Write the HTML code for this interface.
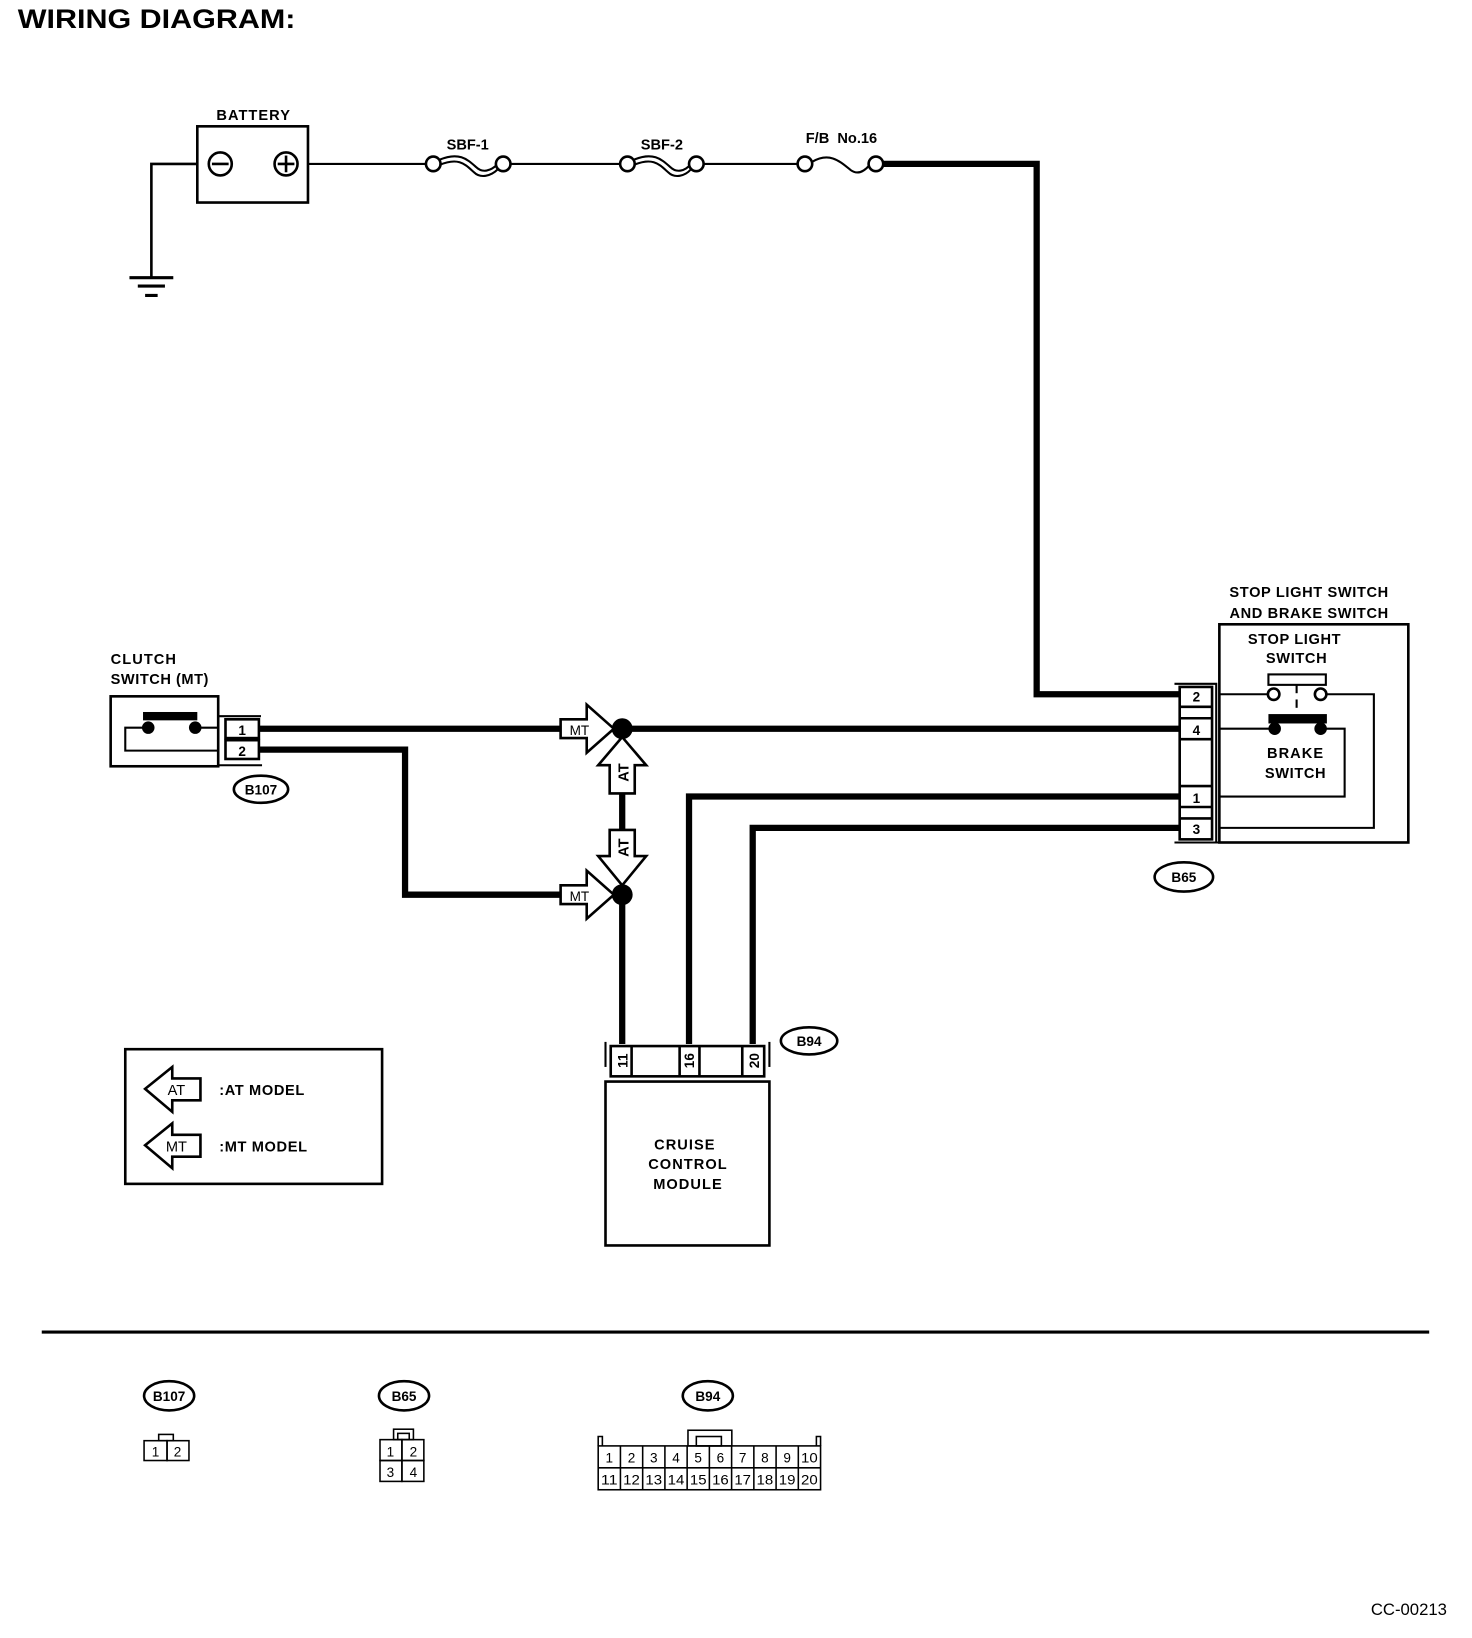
<!DOCTYPE html>
<html><head><meta charset="utf-8"><style>
html,body{margin:0;padding:0;background:#fff;}
svg{display:block;}
text{font-family:"Liberation Sans",Arial,sans-serif;font-weight:bold;fill:#000;}
text.n{font-weight:normal;}
</style></head><body>
<svg width="1472" height="1638" viewBox="0 0 1410 1569" xmlns="http://www.w3.org/2000/svg">
<rect x="0" y="0" width="1410" height="1569" fill="#fff"/>
<text x="17" y="27" font-size="26" textLength="266" lengthAdjust="spacingAndGlyphs">WIRING DIAGRAM:</text>

<!-- battery -->
<text x="243" y="115" font-size="14" text-anchor="middle" letter-spacing="1">BATTERY</text>
<rect x="189" y="121" width="106" height="73" fill="none" stroke="#000" stroke-width="2.5"/>
<circle cx="211" cy="157" r="11" fill="none" stroke="#000" stroke-width="2.5"/>
<line x1="203" y1="157" x2="219" y2="157" stroke="#000" stroke-width="2.5"/>
<circle cx="274" cy="157" r="11" fill="none" stroke="#000" stroke-width="2.5"/>
<line x1="266" y1="157" x2="282" y2="157" stroke="#000" stroke-width="2.5"/>
<line x1="274" y1="149" x2="274" y2="165" stroke="#000" stroke-width="2.5"/>
<polyline points="189,157 145,157 145,266" fill="none" stroke="#000" stroke-width="2.5"/>
<line x1="124" y1="266" x2="166" y2="266" stroke="#000" stroke-width="3"/>
<line x1="132" y1="274" x2="158" y2="274" stroke="#000" stroke-width="3"/>
<line x1="139" y1="283" x2="151" y2="283" stroke="#000" stroke-width="3"/>

<!-- thin line + fuses -->
<line x1="295" y1="157" x2="408" y2="157" stroke="#000" stroke-width="2"/>
<circle cx="415" cy="157" r="7" fill="#fff" stroke="#000" stroke-width="2.5"/>
<path d="M421,153 C440,145 448,153 456,160 C462,166 470,164 477,157" fill="none" stroke="#000" stroke-width="2"/>
<path d="M421,158 C440,150 446,158 454,165 C460,171 470,169 477,162" fill="none" stroke="#000" stroke-width="2"/>
<circle cx="482" cy="157" r="7" fill="#fff" stroke="#000" stroke-width="2.5"/>
<text x="448" y="143" font-size="14" text-anchor="middle">SBF-1</text>
<line x1="489" y1="157" x2="594" y2="157" stroke="#000" stroke-width="2"/>
<circle cx="601" cy="157" r="7" fill="#fff" stroke="#000" stroke-width="2.5"/>
<path d="M607,153 C626,145 634,153 642,160 C648,166 656,164 662,157" fill="none" stroke="#000" stroke-width="2"/>
<path d="M607,158 C626,150 632,158 640,165 C646,171 656,169 662,162" fill="none" stroke="#000" stroke-width="2"/>
<circle cx="667" cy="157" r="7" fill="#fff" stroke="#000" stroke-width="2.5"/>
<text x="634" y="143" font-size="14" text-anchor="middle">SBF-2</text>
<line x1="674" y1="157" x2="764" y2="157" stroke="#000" stroke-width="2"/>
<circle cx="771" cy="157" r="7" fill="#fff" stroke="#000" stroke-width="2.5"/>
<path d="M778,155 C795,145 805,155 815,163 C822,168 828,164 833,158" fill="none" stroke="#000" stroke-width="2"/>
<circle cx="839" cy="157" r="7" fill="#fff" stroke="#000" stroke-width="2.5"/>
<text x="806" y="137" font-size="14" text-anchor="middle" xml:space="preserve">F/B  No.16</text>

<!-- thick wires -->
<g fill="none" stroke="#000" stroke-width="6">
<polyline points="846,157 993,157 993,665 1130,665"/>
<line x1="248" y1="698" x2="1130" y2="698"/>
<polyline points="660,1000 660,763 1130,763"/>
<polyline points="721,1000 721,793 1130,793"/>
<polyline points="248,718 388,718 388,857 540,857"/>
<line x1="596" y1="857" x2="596" y2="1000"/>
<line x1="596" y1="755" x2="596" y2="797"/>
</g>
<circle cx="596" cy="698" r="10" fill="#000"/>
<circle cx="596" cy="857" r="10" fill="#000"/>

<!-- MT/AT arrows -->
<g fill="#fff" stroke="#000" stroke-width="2.5">
<polygon points="537,689 562,689 562,675 588,698 562,721 562,707 537,707"/>
<polygon points="537,848 562,848 562,834 588,857 562,880 562,866 537,866"/>
<polygon points="596,706 619,733 608,733 608,760 584,760 584,733 573,733"/>
<polygon points="584,795 608,795 608,820 619,820 596,848 573,820 584,820"/>
</g>
<text class="n" x="555" y="704" font-size="13" text-anchor="middle">MT</text>
<text class="n" x="555" y="863" font-size="13" text-anchor="middle">MT</text>
<text transform="translate(602,740) rotate(-90)" font-size="14" text-anchor="middle">AT</text>
<text transform="translate(602,812) rotate(-90)" font-size="14" text-anchor="middle">AT</text>

<!-- clutch switch -->
<text x="106" y="636" font-size="14" letter-spacing="1">CLUTCH</text>
<text x="106" y="655" font-size="14" letter-spacing="0.5">SWITCH (MT)</text>
<rect x="106" y="667" width="103" height="67" fill="none" stroke="#000" stroke-width="2.5"/>
<rect x="137" y="682" width="52" height="8" fill="#000"/>
<circle cx="142" cy="697" r="6" fill="#000"/>
<circle cx="187" cy="697" r="6" fill="#000"/>
<polyline points="142,697 120,697 120,719 209,719" fill="none" stroke="#000" stroke-width="2"/>
<line x1="187" y1="697" x2="209" y2="697" stroke="#000" stroke-width="2"/>
<polyline points="209,711 209,686 250,686" fill="none" stroke="#000" stroke-width="2"/>
<line x1="209" y1="733" x2="251" y2="733" stroke="#000" stroke-width="2"/>
<rect x="216" y="689" width="32" height="18" fill="#fff" stroke="#000" stroke-width="2.5"/>
<rect x="216" y="709" width="32" height="18" fill="#fff" stroke="#000" stroke-width="2.5"/>
<text x="232" y="704" font-size="13" text-anchor="middle">1</text>
<text x="232" y="724" font-size="13" text-anchor="middle">2</text>
<ellipse cx="250" cy="756" rx="26" ry="13" fill="#fff" stroke="#000" stroke-width="2.5"/>
<text x="250" y="761" font-size="13" text-anchor="middle">B107</text>

<!-- stop light switch -->
<text x="1254" y="572" font-size="14" text-anchor="middle" letter-spacing="0.6">STOP LIGHT SWITCH</text>
<text x="1254" y="592" font-size="14" text-anchor="middle" letter-spacing="0.6">AND BRAKE SWITCH</text>
<rect x="1168" y="598" width="181" height="209" fill="none" stroke="#000" stroke-width="2.5"/>
<text x="1240" y="617" font-size="14" text-anchor="middle" letter-spacing="0.6">STOP LIGHT</text>
<text x="1242" y="635" font-size="14" text-anchor="middle" letter-spacing="0.6">SWITCH</text>
<!-- B65 connector -->
<polyline points="1125,655 1165,655 1165,807" fill="none" stroke="#000" stroke-width="2"/>
<rect x="1130" y="658" width="31" height="146" fill="#fff" stroke="#000" stroke-width="2.5"/>
<line x1="1130" y1="677" x2="1161" y2="677" stroke="#000" stroke-width="2.5"/>
<line x1="1130" y1="688" x2="1161" y2="688" stroke="#000" stroke-width="2.5"/>
<line x1="1130" y1="708" x2="1161" y2="708" stroke="#000" stroke-width="2.5"/>
<line x1="1130" y1="753" x2="1161" y2="753" stroke="#000" stroke-width="2.5"/>
<line x1="1130" y1="773" x2="1161" y2="773" stroke="#000" stroke-width="2.5"/>
<line x1="1130" y1="784" x2="1161" y2="784" stroke="#000" stroke-width="2.5"/>
<line x1="1125" y1="807" x2="1168" y2="807" stroke="#000" stroke-width="2"/>
<text x="1146" y="672" font-size="13" text-anchor="middle">2</text>
<text x="1146" y="704" font-size="13" text-anchor="middle">4</text>
<text x="1146" y="769" font-size="13" text-anchor="middle">1</text>
<text x="1146" y="799" font-size="13" text-anchor="middle">3</text>
<!-- internal switch wiring -->
<g fill="none" stroke="#000" stroke-width="2">
<line x1="1168" y1="665" x2="1214" y2="665"/>
<polyline points="1270,665 1316,665 1316,793 1168,793"/>
<line x1="1168" y1="698" x2="1218" y2="698"/>
<polyline points="1266,698 1288,698 1288,763 1168,763"/>
<rect x="1215" y="646" width="55" height="10"/>
<line x1="1242" y1="656" x2="1242" y2="664"/>
<line x1="1242" y1="670" x2="1242" y2="678"/>
</g>
<circle cx="1220" cy="665" r="5.5" fill="#fff" stroke="#000" stroke-width="2.5"/>
<circle cx="1265" cy="665" r="5.5" fill="#fff" stroke="#000" stroke-width="2.5"/>
<rect x="1215" y="684" width="56" height="9" fill="#000"/>
<circle cx="1221" cy="698" r="6" fill="#000"/>
<circle cx="1265" cy="698" r="6" fill="#000"/>
<text x="1241" y="726" font-size="14" text-anchor="middle" letter-spacing="1">BRAKE</text>
<text x="1241" y="745" font-size="14" text-anchor="middle" letter-spacing="0.6">SWITCH</text>
<ellipse cx="1134" cy="840" rx="28" ry="14" fill="#fff" stroke="#000" stroke-width="2.5"/>
<text x="1134" y="845" font-size="13" text-anchor="middle">B65</text>

<!-- cruise control module -->
<polyline points="580,1022 580,998" fill="none" stroke="#000" stroke-width="2"/>
<polyline points="737,1022 737,998" fill="none" stroke="#000" stroke-width="2"/>
<rect x="580" y="1036" width="157" height="157" fill="none" stroke="#000" stroke-width="2.5"/>
<rect x="585" y="1002" width="147" height="29" fill="#fff" stroke="#000" stroke-width="2.5"/>
<line x1="605" y1="1002" x2="605" y2="1031" stroke="#000" stroke-width="2.5"/>
<line x1="651" y1="1002" x2="651" y2="1031" stroke="#000" stroke-width="2.5"/>
<line x1="670" y1="1002" x2="670" y2="1031" stroke="#000" stroke-width="2.5"/>
<line x1="711" y1="1002" x2="711" y2="1031" stroke="#000" stroke-width="2.5"/>
<text transform="translate(601,1016) rotate(-90)" font-size="13" text-anchor="middle">11</text>
<text transform="translate(665,1016) rotate(-90)" font-size="13" text-anchor="middle">16</text>
<text transform="translate(727,1016) rotate(-90)" font-size="13" text-anchor="middle">20</text>
<ellipse cx="775" cy="997" rx="27" ry="13" fill="#fff" stroke="#000" stroke-width="2.5"/>
<text x="775" y="1002" font-size="13" text-anchor="middle">B94</text>
<text x="656" y="1101" font-size="14" text-anchor="middle" letter-spacing="1">CRUISE</text>
<text x="659" y="1120" font-size="14" text-anchor="middle" letter-spacing="1">CONTROL</text>
<text x="659" y="1139" font-size="14" text-anchor="middle" letter-spacing="1">MODULE</text>

<!-- legend -->
<rect x="120" y="1005" width="246" height="129" fill="none" stroke="#000" stroke-width="2.5"/>
<g fill="#fff" stroke="#000" stroke-width="2.5">
<polygon points="139,1043 165,1022 165,1033 192,1033 192,1054 165,1054 165,1065"/>
<polygon points="139,1097 165,1076 165,1087 192,1087 192,1108 165,1108 165,1119"/>
</g>
<text class="n" x="169" y="1049" font-size="14" text-anchor="middle">AT</text>
<text class="n" x="169" y="1103" font-size="14" text-anchor="middle">MT</text>
<text x="210" y="1049" font-size="14" letter-spacing="0.6">:AT MODEL</text>
<text x="210" y="1103" font-size="14" letter-spacing="0.6">:MT MODEL</text>

<line x1="40" y1="1276" x2="1369" y2="1276" stroke="#000" stroke-width="3"/>

<!-- bottom connectors -->
<ellipse cx="162" cy="1337" rx="24" ry="14" fill="#fff" stroke="#000" stroke-width="2.5"/>
<text x="162" y="1342" font-size="13" text-anchor="middle">B107</text>
<ellipse cx="387" cy="1337" rx="24" ry="14" fill="#fff" stroke="#000" stroke-width="2.5"/>
<text x="387" y="1342" font-size="13" text-anchor="middle">B65</text>
<ellipse cx="678" cy="1337" rx="24" ry="14" fill="#fff" stroke="#000" stroke-width="2.5"/>
<text x="678" y="1342" font-size="13" text-anchor="middle">B94</text>

<g fill="none" stroke="#000" stroke-width="1.5">
<rect x="152" y="1374" width="14" height="6"/>
<rect x="138" y="1380" width="22" height="19"/>
<rect x="160" y="1380" width="21" height="19"/>
<rect x="377" y="1369" width="19" height="10"/>
<rect x="381" y="1373" width="11" height="6"/>
<rect x="364" y="1379" width="21" height="20"/>
<rect x="385" y="1379" width="21" height="20"/>
<rect x="364" y="1399" width="21" height="20"/>
<rect x="385" y="1399" width="21" height="20"/>
<rect x="659" y="1370" width="42" height="15"/>
<rect x="667" y="1376" width="24" height="9"/>
<polyline points="573,1385 573,1376 577,1376 577,1385"/>
<polyline points="782,1385 782,1376 786,1376 786,1385"/>
<rect x="573" y="1385" width="213" height="42"/>
<line x1="573" y1="1406" x2="786" y2="1406"/>
</g>
<g stroke="#000" stroke-width="1.5">
<line x1="594.3" y1="1385" x2="594.3" y2="1427"/><line x1="615.6" y1="1385" x2="615.6" y2="1427"/>
<line x1="636.9" y1="1385" x2="636.9" y2="1427"/><line x1="658.2" y1="1385" x2="658.2" y2="1427"/>
<line x1="679.5" y1="1385" x2="679.5" y2="1427"/><line x1="700.8" y1="1385" x2="700.8" y2="1427"/>
<line x1="722.1" y1="1385" x2="722.1" y2="1427"/><line x1="743.4" y1="1385" x2="743.4" y2="1427"/>
<line x1="764.7" y1="1385" x2="764.7" y2="1427"/>
</g>
<text class="n" x="149" y="1395" font-size="13" text-anchor="middle">1</text>
<text class="n" x="170" y="1395" font-size="13" text-anchor="middle">2</text>
<text class="n" x="374" y="1395" font-size="13" text-anchor="middle">1</text>
<text class="n" x="396" y="1395" font-size="13" text-anchor="middle">2</text>
<text class="n" x="374" y="1415" font-size="13" text-anchor="middle">3</text>
<text class="n" x="396" y="1415" font-size="13" text-anchor="middle">4</text>

<g font-size="13" text-anchor="middle">
<text class="n" x="583.6" y="1401">1</text><text class="n" x="604.9" y="1401">2</text>
<text class="n" x="626.2" y="1401">3</text><text class="n" x="647.5" y="1401">4</text>
<text class="n" x="668.8" y="1401">5</text><text class="n" x="690.1" y="1401">6</text>
<text class="n" x="711.4" y="1401">7</text><text class="n" x="732.7" y="1401">8</text>
<text class="n" x="754" y="1401">9</text><text class="n" x="775.3" y="1401" textLength="16" lengthAdjust="spacingAndGlyphs">10</text>
<text class="n" x="583.6" y="1422" textLength="16" lengthAdjust="spacingAndGlyphs">11</text>
<text class="n" x="604.9" y="1422" textLength="16" lengthAdjust="spacingAndGlyphs">12</text>
<text class="n" x="626.2" y="1422" textLength="16" lengthAdjust="spacingAndGlyphs">13</text>
<text class="n" x="647.5" y="1422" textLength="16" lengthAdjust="spacingAndGlyphs">14</text>
<text class="n" x="668.8" y="1422" textLength="16" lengthAdjust="spacingAndGlyphs">15</text>
<text class="n" x="690.1" y="1422" textLength="16" lengthAdjust="spacingAndGlyphs">16</text>
<text class="n" x="711.4" y="1422" textLength="16" lengthAdjust="spacingAndGlyphs">17</text>
<text class="n" x="732.7" y="1422" textLength="16" lengthAdjust="spacingAndGlyphs">18</text>
<text class="n" x="754" y="1422" textLength="16" lengthAdjust="spacingAndGlyphs">19</text>
<text class="n" x="775.3" y="1422" textLength="16" lengthAdjust="spacingAndGlyphs">20</text>
</g>

<text class="n" x="1386" y="1547" font-size="16" text-anchor="end">CC-00213</text>
</svg>
</body></html>
